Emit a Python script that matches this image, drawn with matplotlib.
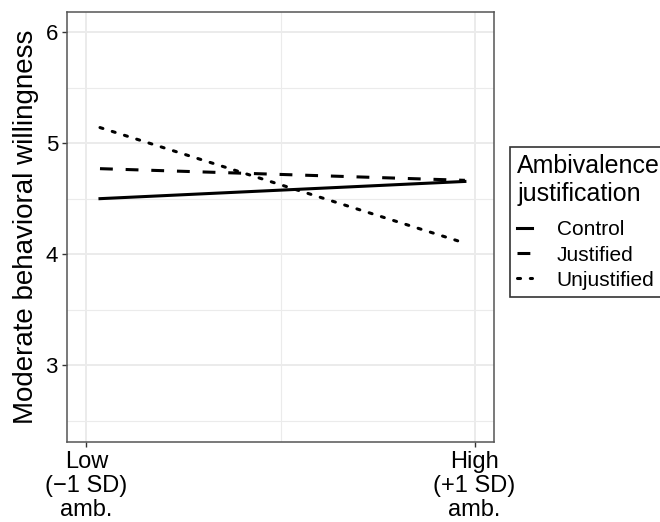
import matplotlib
matplotlib.use("Agg")
import matplotlib.pyplot as plt
from matplotlib.ticker import MultipleLocator

plt.rcParams['font.family'] = ['Liberation Sans', 'DejaVu Sans']

# ambivalence level: -1 SD -> +1 SD (plotted on 0..1 axis)
amb = [0.035, 0.975]
control = [4.50, 4.655]
justified = [4.77, 4.665]
unjustified = [5.14, 4.10]
groups = ["Control", "Justified", "Unjustified"]
xtick_labels = ["Low\n(\u22121 SD)\namb.", "High\n(+1 SD)\namb."]

fig = plt.figure(figsize=(6.6, 5.22), dpi=100)
ax = fig.add_axes([0.1015, 0.1533, 0.647, 0.8237])

lw = 2.2
ax.plot(amb, control, color='black', lw=lw, linestyle='-', label=groups[0], zorder=3)
ax.plot(amb, justified, color='black', lw=lw, linestyle=(0, (4.2, 4.2)), label=groups[1], zorder=3)
ax.plot(amb, unjustified, color='black', lw=lw, linestyle=(0, (1, 3.2)),
        dash_capstyle='round', label=groups[2], zorder=3)

ax.set_xlim(-0.05, 1.05)
ax.set_ylim(2.31, 6.18)
ax.set_xticks([0, 1])
ax.set_xticklabels(xtick_labels, fontsize=17, linespacing=1.13)
ax.set_yticks([3, 4, 5, 6])
ax.yaxis.set_minor_locator(MultipleLocator(0.5))
ax.xaxis.set_minor_locator(MultipleLocator(0.5))
ax.tick_params(axis='y', labelsize=16)
ax.tick_params(which='major', length=3.5, width=1, color='#333333', pad=3)
ax.tick_params(which='minor', length=0)

ax.grid(which='major', color='#EBEBEB', lw=1.4, zorder=0)
ax.grid(which='minor', color='#EBEBEB', lw=0.8, zorder=0)
ax.set_axisbelow(True)
for s in ax.spines.values():
    s.set_color('#555555')
    s.set_linewidth(1.1)

ax.set_ylabel("Moderate behavioral willingness", fontsize=20)
ax.yaxis.set_label_coords(-0.066, 0.5)

leg = fig.legend(loc='upper left', bbox_to_anchor=(0.7727, 0.7184), borderaxespad=0,
                 title="Ambivalence\njustification", fontsize=15, title_fontsize=18,
                 frameon=True, fancybox=False, handlelength=0.7, handletextpad=1.2,
                 labelspacing=0.3, borderpad=0.35)
leg._legend_box.align = "left"
leg._legend_box.sep = 10.5
leg.get_title().set_linespacing(1.18)
leg.get_frame().set_edgecolor('black')
leg.get_frame().set_linewidth(1.2)

fig.savefig("out.png", dpi=100)
